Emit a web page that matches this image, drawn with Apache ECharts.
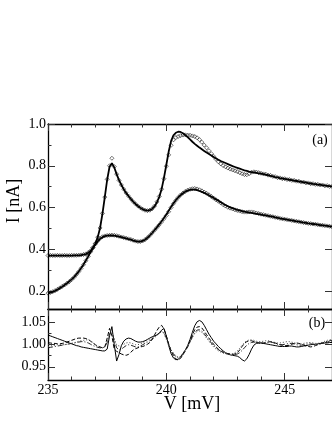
<!DOCTYPE html>
<html>
<head>
<meta charset="utf-8">
<script src="https://cdn.jsdelivr.net/npm/echarts@6/dist/echarts.min.js"></script>
<style>
html, body { margin: 0; padding: 0; background: #fff; }
#chart { width: 332px; height: 430px; }
</style>
</head>
<body>
<div id="chart"></div>
<script>
// bias voltage [mV], 0.1 mV steps
var V = [
  235.0,235.1,235.2,235.3,235.4,235.5,235.6,235.7,235.8,235.9,
  236.0,236.1,236.2,236.3,236.4,236.5,236.6,236.7,236.8,236.9,
  237.0,237.1,237.2,237.3,237.4,237.5,237.6,237.7,237.8,237.9,
  238.0,238.1,238.2,238.3,238.4,238.5,238.6,238.7,238.8,238.9,
  239.0,239.1,239.2,239.3,239.4,239.5,239.6,239.7,239.8,239.9,
  240.0,240.1,240.2,240.3,240.4,240.5,240.6,240.7,240.8,240.9,
  241.0,241.1,241.2,241.3,241.4,241.5,241.6,241.7,241.8,241.9,
  242.0,242.1,242.2,242.3,242.4,242.5,242.6,242.7,242.8,242.9,
  243.0,243.1,243.2,243.3,243.4,243.5,243.6,243.7,243.8,243.9,
  244.0,244.1,244.2,244.3,244.4,244.5,244.6,244.7,244.8,244.9,
  245.0,245.1,245.2,245.3,245.4,245.5,245.6,245.7,245.8,245.9,
  246.0,246.1,246.2,246.3,246.4,246.5,246.6,246.7,246.8,246.9,
  247.0
];

// (a) upper curve: measured points and fit
var dataUpper = [
  0.370,0.371,0.370,0.370,0.371,0.370,0.370,0.371,0.370,0.370,
  0.371,0.371,0.371,0.372,0.373,0.375,0.378,0.384,0.393,0.407,
  0.428,0.458,0.502,0.572,0.650,0.735,0.800,0.836,0.796,0.760,
  0.730,0.708,0.688,0.670,0.655,0.641,0.628,0.617,0.607,0.599,
  0.592,0.587,0.585,0.587,0.594,0.607,0.627,0.653,0.688,0.738,
  0.798,0.852,0.898,0.924,0.935,0.940,0.944,0.947,0.948,0.947,
  0.946,0.943,0.940,0.934,0.925,0.913,0.899,0.886,0.872,0.858,
  0.845,0.831,0.819,0.809,0.801,0.795,0.789,0.784,0.780,0.776,
  0.772,0.767,0.762,0.758,0.757,0.762,0.769,0.771,0.770,0.767,
  0.764,0.761,0.760,0.755,0.754,0.749,0.748,0.743,0.742,0.738,
  0.738,0.734,0.734,0.730,0.730,0.726,0.726,0.722,0.722,0.718,
  0.718,0.714,0.714,0.711,0.711,0.708,0.708,0.704,0.705,0.701,
  0.701
];
var fitUpper = [
  0.370,0.370,0.370,0.370,0.370,0.370,0.370,0.370,0.370,0.370,
  0.370,0.371,0.371,0.371,0.372,0.374,0.377,0.383,0.392,0.406,
  0.427,0.457,0.502,0.570,0.650,0.733,0.795,0.812,0.792,0.760,
  0.731,0.708,0.688,0.670,0.655,0.641,0.628,0.617,0.607,0.599,
  0.592,0.587,0.585,0.587,0.593,0.605,0.624,0.651,0.688,0.742,
  0.805,0.868,0.918,0.946,0.958,0.963,0.962,0.956,0.947,0.937,
  0.926,0.915,0.905,0.896,0.887,0.879,0.871,0.863,0.856,0.849,
  0.842,0.835,0.829,0.823,0.818,0.813,0.808,0.803,0.798,0.794,
  0.790,0.786,0.782,0.778,0.775,0.772,0.770,0.768,0.766,0.764,
  0.762,0.760,0.757,0.755,0.752,0.749,0.746,0.744,0.741,0.739,
  0.737,0.735,0.733,0.731,0.729,0.727,0.725,0.723,0.721,0.719,
  0.717,0.715,0.713,0.712,0.710,0.709,0.707,0.705,0.704,0.702,
  0.701
];

// (a) lower curve: measured points and fit
var dataLower = [
  0.190,0.193,0.197,0.202,0.208,0.215,0.222,0.229,0.237,0.245,
  0.255,0.266,0.279,0.293,0.309,0.326,0.345,0.366,0.388,0.408,
  0.425,0.440,0.452,0.460,0.464,0.466,0.467,0.468,0.467,0.465,
  0.462,0.459,0.456,0.453,0.450,0.447,0.443,0.439,0.437,0.437,
  0.440,0.446,0.455,0.466,0.478,0.491,0.504,0.517,0.531,0.546,
  0.562,0.580,0.600,0.618,0.634,0.648,0.660,0.669,0.677,0.683,
  0.687,0.690,0.691,0.689,0.685,0.680,0.674,0.668,0.661,0.653,
  0.645,0.637,0.630,0.622,0.614,0.607,0.601,0.597,0.593,0.589,
  0.586,0.583,0.580,0.578,0.578,0.579,0.579,0.577,0.574,0.571,
  0.568,0.566,0.563,0.561,0.558,0.556,0.553,0.551,0.548,0.546,
  0.544,0.542,0.540,0.538,0.536,0.534,0.532,0.530,0.528,0.526,
  0.524,0.523,0.521,0.520,0.518,0.516,0.515,0.513,0.512,0.510,
  0.508
];
var fitLower = [
  0.189,0.192,0.196,0.201,0.207,0.214,0.221,0.229,0.237,0.246,
  0.256,0.267,0.280,0.294,0.310,0.327,0.346,0.366,0.387,0.406,
  0.423,0.438,0.450,0.458,0.463,0.465,0.466,0.466,0.465,0.463,
  0.461,0.458,0.455,0.452,0.449,0.446,0.442,0.439,0.437,0.437,
  0.440,0.446,0.455,0.466,0.478,0.491,0.505,0.519,0.534,0.550,
  0.567,0.585,0.603,0.620,0.635,0.648,0.659,0.668,0.676,0.681,
  0.685,0.686,0.686,0.683,0.679,0.675,0.670,0.665,0.659,0.652,
  0.646,0.639,0.632,0.625,0.618,0.612,0.606,0.601,0.597,0.593,
  0.589,0.586,0.583,0.580,0.578,0.576,0.574,0.572,0.570,0.568,
  0.566,0.564,0.562,0.560,0.558,0.556,0.553,0.551,0.548,0.546,
  0.544,0.542,0.540,0.538,0.536,0.534,0.532,0.530,0.528,0.526,
  0.524,0.523,0.521,0.520,0.518,0.516,0.515,0.513,0.512,0.510,
  0.508
];

// (b) ratios
var ratioSolid = [
  1.022,1.020,1.018,1.016,1.014,1.012,1.010,1.008,1.006,1.004,
  1.002,1.000,0.998,0.997,0.995,0.994,0.993,0.992,0.991,0.990,
  0.989,0.988,0.987,0.986,0.986,0.990,1.020,1.041,1.000,0.963,
  0.978,0.998,1.008,1.013,1.015,1.014,1.011,1.008,1.006,1.006,
  1.007,1.009,1.012,1.015,1.018,1.020,1.022,1.027,1.033,1.037,
  1.020,0.998,0.980,0.970,0.966,0.967,0.972,0.980,0.988,0.998,
  1.012,1.028,1.043,1.052,1.055,1.052,1.044,1.034,1.024,1.016,
  1.008,1.002,0.996,0.991,0.986,0.982,0.979,0.977,0.976,0.975,
  0.974,0.971,0.966,0.963,0.968,0.978,0.990,0.999,1.003,1.004,
  1.004,1.003,1.002,1.001,1.000,0.999,0.998,0.997,0.996,0.996,
  0.996,0.996,0.997,0.997,0.996,0.995,0.995,0.996,0.997,0.998,
  0.999,1.000,1.001,1.001,1.002,1.003,1.003,1.004,1.004,1.005,
  1.005
];
var ratioDashed = [
  1.004,1.004,1.003,1.003,1.002,1.002,1.003,1.004,1.006,1.008,
  1.010,1.012,1.014,1.015,1.015,1.015,1.014,1.012,1.008,1.004,
  1.000,0.997,0.995,0.993,0.995,1.015,1.037,1.020,0.990,0.985,
  0.982,0.979,0.977,0.976,0.978,0.983,0.988,0.991,0.993,0.995,
  0.996,0.998,1.001,1.005,1.012,1.022,1.032,1.040,1.044,1.036,
  1.020,1.002,0.986,0.975,0.968,0.965,0.969,0.977,0.986,0.996,
  1.008,1.022,1.034,1.040,1.041,1.038,1.031,1.023,1.015,1.008,
  1.001,0.995,0.990,0.986,0.983,0.981,0.980,0.979,0.978,0.979,
  0.982,0.988,0.996,1.003,1.007,1.009,1.009,1.007,1.005,1.004,
  1.003,1.003,1.004,1.006,1.007,1.006,1.004,1.002,1.000,0.999,
  0.998,0.998,0.999,1.001,1.003,1.004,1.003,1.001,0.999,0.997,
  0.996,0.995,0.996,0.998,1.000,1.002,1.004,1.005,1.006,1.007,
  1.008
];
var ratioDashDot = [
  0.993,0.994,0.995,0.996,0.997,0.998,0.999,1.000,1.001,1.002,
  1.003,1.004,1.005,1.006,1.007,1.007,1.006,1.004,1.001,0.998,
  0.996,0.994,0.993,0.993,0.995,1.005,1.025,1.030,1.010,0.993,
  0.988,0.990,0.994,0.998,1.000,0.999,0.997,0.995,0.995,0.997,
  1.000,1.003,1.006,1.009,1.012,1.016,1.021,1.026,1.030,1.027,
  1.015,1.000,0.988,0.979,0.973,0.970,0.972,0.978,0.986,0.995,
  1.006,1.018,1.028,1.033,1.034,1.031,1.025,1.018,1.011,1.004,
  0.998,0.993,0.989,0.985,0.982,0.980,0.979,0.978,0.978,0.978,
  0.979,0.982,0.987,0.993,0.999,1.003,1.005,1.006,1.006,1.005,
  1.004,1.004,1.005,1.006,1.006,1.005,1.003,1.001,1.000,1.000,
  1.001,1.002,1.003,1.003,1.002,1.000,0.999,0.999,1.000,1.001,
  1.002,1.002,1.001,1.000,1.001,1.002,1.004,1.006,1.008,1.009,
  1.010
];
var ratioDotted = [
  0.996,0.997,0.998,0.999,1.000,1.000,1.000,1.000,1.001,1.002,
  1.003,1.004,1.006,1.008,1.009,1.010,1.011,1.011,1.009,1.005,
  1.000,0.996,0.994,0.993,0.996,1.008,1.022,1.026,1.012,1.000,
  0.997,0.998,1.001,1.004,1.005,1.004,1.002,1.000,1.000,1.002,
  1.004,1.007,1.010,1.013,1.016,1.019,1.023,1.027,1.030,1.026,
  1.012,0.998,0.988,0.981,0.975,0.972,0.974,0.980,0.988,0.996,
  1.006,1.016,1.025,1.030,1.031,1.028,1.022,1.015,1.008,1.001,
  0.995,0.990,0.986,0.983,0.981,0.980,0.979,0.979,0.980,0.982,
  0.986,0.992,0.999,1.005,1.009,1.011,1.011,1.010,1.008,1.007,
  1.007,1.008,1.009,1.009,1.008,1.006,1.005,1.004,1.004,1.005,
  1.006,1.007,1.007,1.006,1.004,1.003,1.002,1.002,1.003,1.004,
  1.005,1.005,1.004,1.003,1.003,1.004,1.006,1.008,1.010,1.011,
  1.012
];

// ticks
var xMajor = [235, 240, 245];
var xMinor = [236, 237, 238, 239, 241, 242, 243, 244, 246, 247];
var yMajorA = [0.2, 0.4, 0.6, 0.8, 1.0];
var yMinorA = [0.3, 0.5, 0.7, 0.9];
var yMajorB = [0.95, 1.00, 1.05];
var yMinorB = [0.975, 1.025];

var serif = '"Liberation Serif", "DejaVu Serif", serif';

function pairs(ys) {
  return V.map(function (v, i) { return [v, ys[i]]; });
}

function xAx(gi, pos, ticks, len, line, labels) {
  return {
    type: 'value', gridIndex: gi, position: pos, min: 235, max: 247,
    axisLine: { show: line, onZero: false, lineStyle: { color: '#000', width: 1.3 } },
    axisTick: { show: true, inside: true, length: len, customValues: ticks, lineStyle: { color: '#333', width: 1 } },
    axisLabel: labels ? { show: true, customValues: labels, margin: 3, fontFamily: serif, fontSize: 14, color: '#000' } : { show: false },
    splitLine: { show: false }
  };
}
function yAx(gi, pos, min, max, ticks, len, line, labels, dec) {
  return {
    type: 'value', gridIndex: gi, position: pos, min: min, max: max,
    axisLine: { show: line, onZero: false, lineStyle: { color: '#000', width: 1.3 } },
    axisTick: { show: true, inside: true, length: len, customValues: ticks, lineStyle: { color: '#333', width: 1 } },
    axisLabel: labels ? {
      show: true, customValues: labels, margin: 2, fontFamily: serif, fontSize: 14, color: '#000',
      formatter: function (v) { return v.toFixed(dec); }
    } : { show: false },
    splitLine: { show: false }
  };
}

var myChart = echarts.init(document.getElementById('chart'));

var option = {
  animation: false,
  backgroundColor: '#fff',
  grid: [
    { left: 48, top: 124, width: 288, height: 185 },
    { left: 48, top: 309, width: 288, height: 71 }
  ],
  xAxis: [
    xAx(0, 'bottom', xMajor, 7, true, null),
    xAx(0, 'bottom', xMinor, 3.5, false, null),
    xAx(0, 'top', xMajor, 7, true, null),
    xAx(0, 'top', xMinor, 3.5, false, null),
    xAx(1, 'bottom', xMajor, 7, true, xMajor),
    xAx(1, 'bottom', xMinor, 3.5, false, null),
    xAx(1, 'top', xMajor, 7, true, null),
    xAx(1, 'top', xMinor, 3.5, false, null)
  ],
  yAxis: [
    yAx(0, 'left', 0.114, 1.0, yMajorA, 7, true, yMajorA, 1),
    yAx(0, 'left', 0.114, 1.0, yMinorA, 3.5, false, null),
    yAx(0, 'right', 0.114, 1.0, yMajorA, 7, true, null),
    yAx(1, 'left', 0.92, 1.081, yMajorB, 7, true, yMajorB, 2),
    yAx(1, 'left', 0.92, 1.081, yMinorB, 3.5, false, null),
    yAx(1, 'right', 0.92, 1.081, yMajorB, 7, true, null)
  ],
  series: [
    { type: 'line', xAxisIndex: 0, yAxisIndex: 0, data: pairs(fitUpper), showSymbol: false,
      lineStyle: { color: '#000', width: 1.8 } },
    { type: 'line', xAxisIndex: 0, yAxisIndex: 0, data: pairs(fitLower), showSymbol: false,
      lineStyle: { color: '#000', width: 1.8 } },
    { type: 'scatter', xAxisIndex: 0, yAxisIndex: 0, data: pairs(dataUpper), symbol: 'diamond', symbolSize: 4,
      itemStyle: { color: 'rgba(255,255,255,0)', borderColor: '#000', borderWidth: 0.7 } },
    { type: 'scatter', xAxisIndex: 0, yAxisIndex: 0, data: pairs(dataLower), symbol: 'diamond', symbolSize: 4,
      itemStyle: { color: 'rgba(255,255,255,0)', borderColor: '#000', borderWidth: 0.7 } },
    { type: 'line', xAxisIndex: 4, yAxisIndex: 3, data: pairs(ratioSolid), showSymbol: false,
      lineStyle: { color: '#000', width: 1 } },
    { type: 'line', xAxisIndex: 4, yAxisIndex: 3, data: pairs(ratioDashed), showSymbol: false,
      lineStyle: { color: '#000', width: 1, type: [4, 2] } },
    { type: 'line', xAxisIndex: 4, yAxisIndex: 3, data: pairs(ratioDashDot), showSymbol: false,
      lineStyle: { color: '#222', width: 1, type: [5, 2, 1, 2] } },
    { type: 'line', xAxisIndex: 4, yAxisIndex: 3, data: pairs(ratioDotted), showSymbol: false,
      lineStyle: { color: '#444', width: 1, type: [1, 2] } }
  ],
  graphic: [
    { type: 'text', x: 14, y: 201, rotation: Math.PI / 2,
      style: { text: 'I [nA]', fontSize: 18, fontFamily: serif, fill: '#000', align: 'center', verticalAlign: 'middle' } },
    { type: 'text', x: 192, y: 404,
      style: { text: 'V [mV]', fontSize: 18, fontFamily: serif, fill: '#000', align: 'center', verticalAlign: 'middle' } },
    { type: 'text', x: 320, y: 140,
      style: { text: '(a)', fontSize: 14, fontFamily: serif, fill: '#000', align: 'center', verticalAlign: 'middle' } },
    { type: 'text', x: 317, y: 323,
      style: { text: '(b)', fontSize: 14, fontFamily: serif, fill: '#000', align: 'center', verticalAlign: 'middle' } }
  ]
};

myChart.setOption(option);
</script>
</body>
</html>
